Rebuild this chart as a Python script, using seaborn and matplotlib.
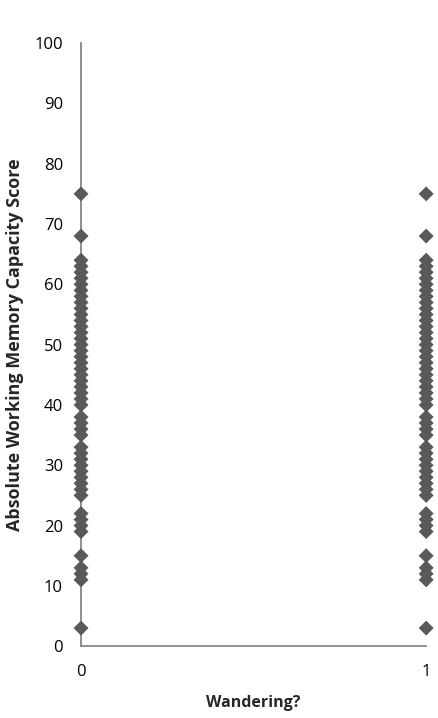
import numpy as np
import pandas as pd
import matplotlib
matplotlib.use("Agg")
import matplotlib.pyplot as plt
import seaborn as sns

# Data
scores_0 = [3, 11, 12, 13, 15, 19, 20, 21, 22,
            25, 26, 27, 28, 29, 30, 31, 32, 33, 35, 36, 37, 38,
            40, 41, 42, 43, 44, 45, 46, 47, 48, 49, 50, 51, 52, 53, 54,
            55, 56, 57, 58, 59, 60, 61, 62, 63, 64, 68, 75]
scores_1 = [3, 11, 12, 13, 15, 19, 20, 21, 22,
            25, 26, 27, 28, 29, 30, 31, 32, 33, 35, 36, 37, 38,
            40, 41, 42, 43, 44, 45, 46, 47, 48, 49, 50, 51, 52, 53, 54,
            55, 56, 57, 58, 59, 60, 61, 62, 63, 64, 68, 75]
x_ticks = [0, 1]
y_ticks = [0, 10, 20, 30, 40, 50, 60, 70, 80, 90, 100]

df = pd.DataFrame({
    "Wandering?": [0] * len(scores_0) + [1] * len(scores_1),
    "Score": scores_0 + scores_1,
})

sns.set_style("white")
plt.rcParams['font.family'] = ['Open Sans', 'DejaVu Sans']

fig = plt.figure(figsize=(4.38, 7.18), dpi=100)
ax = fig.add_axes([0.185, 0.100, 0.788, 0.840])

sns.scatterplot(data=df, x="Wandering?", y="Score", marker="D", s=58,
                color="#595959", edgecolor="none", linewidth=0, ax=ax,
                clip_on=False, zorder=3)

ax.set_xlim(0, 1)
ax.set_ylim(0, 100)
ax.set_xticks(x_ticks)
ax.set_yticks(y_ticks)
ax.tick_params(axis="both", length=0, labelsize=12, colors="#000000")
ax.tick_params(axis="y", pad=13)
ax.tick_params(axis="x", pad=13)

for side in ["top", "right"]:
    ax.spines[side].set_visible(False)
for side in ["left", "bottom"]:
    ax.spines[side].set_color("#868686")
    ax.spines[side].set_linewidth(1.3)

ax.set_xlabel("Wandering?", fontsize=11.5, fontweight="bold")
ax.xaxis.set_label_coords(0.5, -(703 - 646) / 603)
ax.xaxis.label.set_va("center")
ax.set_ylabel("Absolute Working Memory Capacity Score", fontsize=13,
              fontweight="bold")
ax.yaxis.set_label_coords(-(81 - 15) / 345, 0.5)
ax.yaxis.label.set_va("center")

fig.savefig("out.png", dpi=100)
